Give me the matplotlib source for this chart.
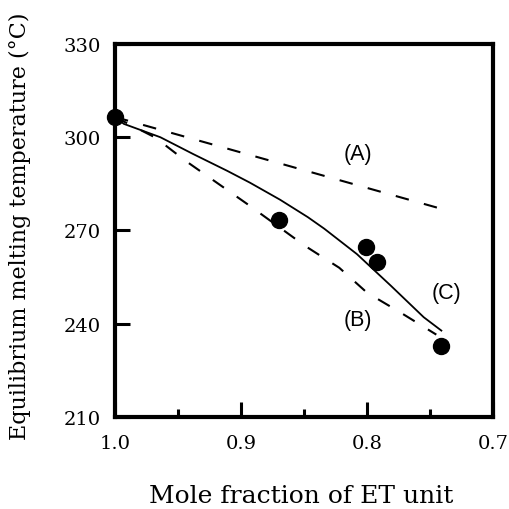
import matplotlib
matplotlib.use("Agg")
import matplotlib.pyplot as plt
from matplotlib.ticker import FixedLocator

# Data
pt_x = [1.0, 0.870, 0.801, 0.792, 0.741]
pt_y = [306.5, 273.4, 264.7, 259.9, 232.8]

a_x = [1.0, 0.743]
a_y = [306.5, 277.2]

b_x = [1.0, 0.968, 0.944, 0.920, 0.895, 0.849, 0.822, 0.800, 0.773, 0.745]
b_y = [306.5, 299.9, 292.4, 285.6, 278.5, 265.0, 258.0, 250.0, 243.5, 236.5]

c_x = [1.0, 0.993, 0.964, 0.938, 0.911, 0.893, 0.869, 0.847, 0.834, 0.808, 0.781, 0.755, 0.741]
c_y = [306.5, 304.3, 300.0, 294.6, 289.2, 285.4, 279.9, 274.3, 270.6, 262.4, 252.2, 242.1, 237.8]

x_major = [1.0, 0.9, 0.8, 0.7]
x_minor = [0.95, 0.85, 0.75]
x_labels = ["1.0", "0.9", "0.8", "0.7"]
y_major = [210, 240, 270, 300, 330]
y_labels = ["210", "240", "270", "300", "330"]

curve_labels = ["(A)", "(B)", "(C)"]
curve_label_x = [0.8075, 0.8075, 0.7367]
curve_label_y = [294.9, 241.5, 249.9]

fig = plt.figure(figsize=(5.1, 5.1), dpi=100)
ax = fig.add_axes([0.2255, 0.1804, 0.9667 - 0.2255, 0.9118 - 0.1804])

ax.set_xlim(1.0, 0.7)
ax.set_ylim(210, 330)

dash = (0, (6.5, 7.5))
ax.plot(a_x, a_y, color="black", lw=1.5, linestyle=dash)
ax.plot(b_x, b_y, color="black", lw=1.5, linestyle=dash)
ax.plot(c_x, c_y, color="black", lw=1.3)
ax.plot(pt_x, pt_y, "o", color="black", markersize=11.5, clip_on=False, zorder=5)

for t, x, y in zip(curve_labels, curve_label_x, curve_label_y):
    ax.text(x, y, t, ha="center", va="center", fontsize=15.5,
            family="Liberation Sans", color="black")

for s in ax.spines.values():
    s.set_linewidth(3.0)

ax.xaxis.set_major_locator(FixedLocator(x_major))
ax.xaxis.set_minor_locator(FixedLocator(x_minor))
ax.set_xticklabels(x_labels)
ax.yaxis.set_major_locator(FixedLocator(y_major))
ax.set_yticklabels(y_labels)

ax.tick_params(axis="both", which="major", direction="in", length=11, width=2.2,
               labelsize=14, top=False, right=False)
ax.tick_params(axis="x", which="major", pad=12)
ax.tick_params(axis="y", which="major", pad=10)
ax.tick_params(axis="x", which="minor", direction="in", length=6, width=2.2,
               top=False)
for lab in ax.get_xticklabels() + ax.get_yticklabels():
    lab.set_family("DejaVu Serif")

fig.text(0.590, 0.0137, "Mole fraction of ET unit", ha="center", va="baseline",
         fontsize=18, family="DejaVu Serif")
fig.text(0.039, 0.556, "Equilibrium melting temperature (°C)", ha="center",
         va="center", rotation=90, fontsize=16, family="DejaVu Serif")

fig.savefig("out.png", dpi=100)
